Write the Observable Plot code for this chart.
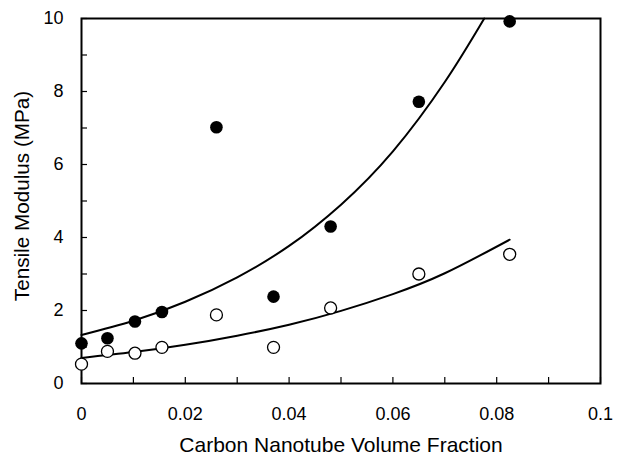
<!DOCTYPE html>
<html>
<head>
<meta charset="utf-8">
<script src="https://cdn.jsdelivr.net/npm/d3@7"></script>
<script src="https://cdn.jsdelivr.net/npm/@observablehq/plot@0.6"></script>
<style>
  html, body { margin: 0; padding: 0; background: #fff; }
</style>
</head>
<body>
<div id="chart"></div>
<script>
// Measured data: filled circles (series A) and open circles (series B)
const fractionA = [0, 0.005, 0.0103, 0.0155, 0.026, 0.037, 0.048, 0.065, 0.0825];
const modulusA  = [1.10, 1.24, 1.70, 1.96, 7.02, 2.38, 4.30, 7.72, 9.92];
const fractionB = [0, 0.005, 0.0103, 0.0155, 0.026, 0.037, 0.048, 0.065, 0.0825];
const modulusB  = [0.53, 0.88, 0.83, 0.99, 1.88, 0.99, 2.07, 3.00, 3.54];

// Fitted curves
const fitAx = [0, 0.01, 0.02, 0.03, 0.04, 0.05, 0.06, 0.07, 0.0776];
const fitAy = [1.33, 1.72, 2.24, 2.91, 3.77, 4.90, 6.36, 8.26, 10.0];
const fitBx = [0, 0.01, 0.02, 0.03, 0.04, 0.05, 0.06, 0.07, 0.0825];
const fitBy = [0.70, 0.86, 1.06, 1.31, 1.61, 1.99, 2.45, 3.02, 3.94];

// Axis ticks and labels
const xTicksMinor = [0, 0.01, 0.02, 0.03, 0.04, 0.05, 0.06, 0.07, 0.08, 0.09, 0.1];
const xTickValues = [0, 0.02, 0.04, 0.06, 0.08, 0.1];
const xTickLabels = ["0", "0.02", "0.04", "0.06", "0.08", "0.1"];
const yTicksMinor = [0, 1, 2, 3, 4, 5, 6, 7, 8, 9, 10];
const yTickValues = [0, 2, 4, 6, 8, 10];
const yTickLabels = ["0", "2", "4", "6", "8", "10"];
const xTitle = "Carbon Nanotube Volume Fraction";
const yTitle = "Tensile Modulus (MPa)";

const ptsA = fractionA.map((x, i) => ({x, y: modulusA[i]}));
const ptsB = fractionB.map((x, i) => ({x, y: modulusB[i]}));
const curveA = fitAx.map((x, i) => ({x, y: fitAy[i]}));
const curveB = fitBx.map((x, i) => ({x, y: fitBy[i]}));

const chart = Plot.plot({
  width: 625,
  height: 457,
  marginLeft: 81,
  marginRight: 25,
  marginTop: 18,
  marginBottom: 74,
  style: {fontFamily: "'Liberation Sans', Arial, Helvetica, sans-serif", fontSize: "18px", color: "#000", background: "#fff"},
  x: {domain: [0, 0.1], label: null},
  y: {domain: [0, 10], label: null},
  marks: [
    Plot.axisX({ticks: xTicksMinor, tickSize: -6, text: null, strokeWidth: 1.2, label: null}),
    Plot.axisY({ticks: yTicksMinor, tickSize: -6, text: null, strokeWidth: 1.2, label: null}),
    Plot.axisX({ticks: xTickValues, tickSize: 0, tickPadding: 24, fontSize: 18,
      tickFormat: d => xTickLabels[xTickValues.indexOf(d)], label: null}),
    Plot.axisY({ticks: yTickValues, tickSize: 0, tickPadding: 18, fontSize: 18,
      tickFormat: d => yTickLabels[yTickValues.indexOf(d)], label: null}),
    Plot.frame({stroke: "#000", strokeWidth: 2}),
    Plot.line(curveA, {x: "x", y: "y", curve: "natural", stroke: "#000", strokeWidth: 2}),
    Plot.line(curveB, {x: "x", y: "y", curve: "natural", stroke: "#000", strokeWidth: 2}),
    Plot.dot(ptsB, {x: "x", y: "y", r: 6, fill: "#fff", stroke: "#000", strokeWidth: 1.3}),
    Plot.dot(ptsA, {x: "x", y: "y", r: 6.3, fill: "#000", stroke: "none"}),
    Plot.text([xTitle], {frameAnchor: "bottom", dy: 62, fontSize: 21, textAnchor: "middle", lineAnchor: "middle", fill: "#000"}),
    Plot.text([yTitle], {frameAnchor: "left", dx: -59, dy: -5, rotate: -90, fontSize: 20.7, textAnchor: "middle", lineAnchor: "middle", fill: "#000"})
  ]
});
document.getElementById("chart").appendChild(chart);
</script>
</body>
</html>
